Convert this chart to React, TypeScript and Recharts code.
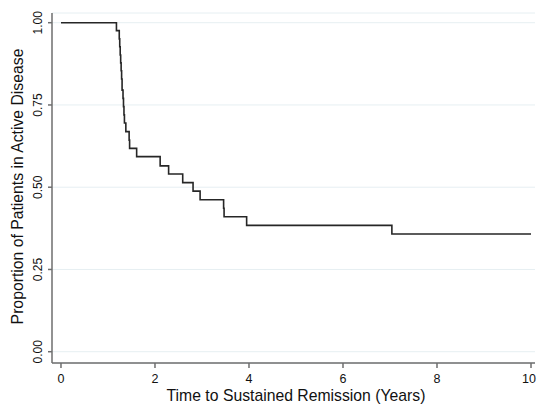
import React from "react";
import { LineChart, Line, XAxis, YAxis, CartesianGrid } from "recharts";

const times = [0, 1.18, 1.24, 1.25, 1.26, 1.27, 1.28, 1.29, 1.3, 1.32, 1.33, 1.34, 1.35, 1.38, 1.45, 1.46, 1.61, 2.11, 2.29, 2.59, 2.81, 2.96, 3.46, 3.47, 3.95, 7.04, 10];
const survival = [1.0, 0.976, 0.951, 0.927, 0.902, 0.878, 0.854, 0.829, 0.795, 0.77, 0.745, 0.72, 0.695, 0.669, 0.643, 0.618, 0.593, 0.565, 0.54, 0.514, 0.488, 0.462, 0.436, 0.41, 0.384, 0.358, 0.358];
const xTicks = [0, 2, 4, 6, 8, 10];
const yTicks = [0, 0.25, 0.5, 0.75, 1];
const xTitle = "Time to Sustained Remission (Years)";
const yTitle = "Proportion of Patients in Active Disease";

const data = times.map((t, i) => ({ t, s: survival[i] }));

const FONT = "'Liberation Sans', Arial, Helvetica, sans-serif";

const YTick = (props: any) => {
  const { x, y, payload } = props;
  return (
    <text
      x={x}
      y={y}
      transform={`rotate(-90, ${x}, ${y})`}
      textAnchor="middle"
      fontSize={12}
      fontFamily={FONT}
      fill="#111"
    >
      {Number(payload.value).toFixed(2)}
    </text>
  );
};

const XTick = (props: any) => {
  const { x, y, payload } = props;
  return (
    <text x={x} y={y} dy={12.5} textAnchor="middle" fontSize={12.5} fontFamily={FONT} fill="#111">
      {payload.value}
    </text>
  );
};

export default function App() {
  return (
    <div style={{ position: "absolute", left: 0, top: 0, width: 537, height: 408, background: "#fff" }}>
      <LineChart width={537} height={408} data={data} margin={{ top: 13, right: 2, bottom: 0, left: 0 }}>
        <CartesianGrid horizontal vertical={false} stroke="#e6eff2" strokeWidth={1} />
        <XAxis
          dataKey="t"
          type="number"
          domain={[-0.191, 10.085]}
          ticks={xTicks}
          allowDataOverflow
          height={45}
          tickSize={5}
          tickMargin={2}
          tick={<XTick />}
          stroke="#6e6e6e"
          strokeWidth={1.5}
          label={{
            content: () => (
              <text x={296} y={401} textAnchor="middle" fontSize={15.75} fontFamily={FONT} fill="#111">
                {xTitle}
              </text>
            ),
          }}
        />
        <YAxis
          type="number"
          domain={[-0.0343, 1.0295]}
          ticks={yTicks}
          allowDataOverflow
          width={52}
          tickSize={4}
          tickMargin={6}
          tick={<YTick />}
          stroke="#6e6e6e"
          strokeWidth={1.5}
          label={{
            content: () => (
              <text
                x={23.3}
                y={186.5}
                transform="rotate(-90, 23.3, 186.5)"
                textAnchor="middle"
                fontSize={15.75}
                fontFamily={FONT}
                fill="#111"
              >
                {yTitle}
              </text>
            ),
          }}
        />
        <Line
          type="stepAfter"
          dataKey="s"
          stroke="#262626"
          strokeWidth={1.6}
          dot={false}
          isAnimationActive={false}
        />
      </LineChart>
    </div>
  );
}
